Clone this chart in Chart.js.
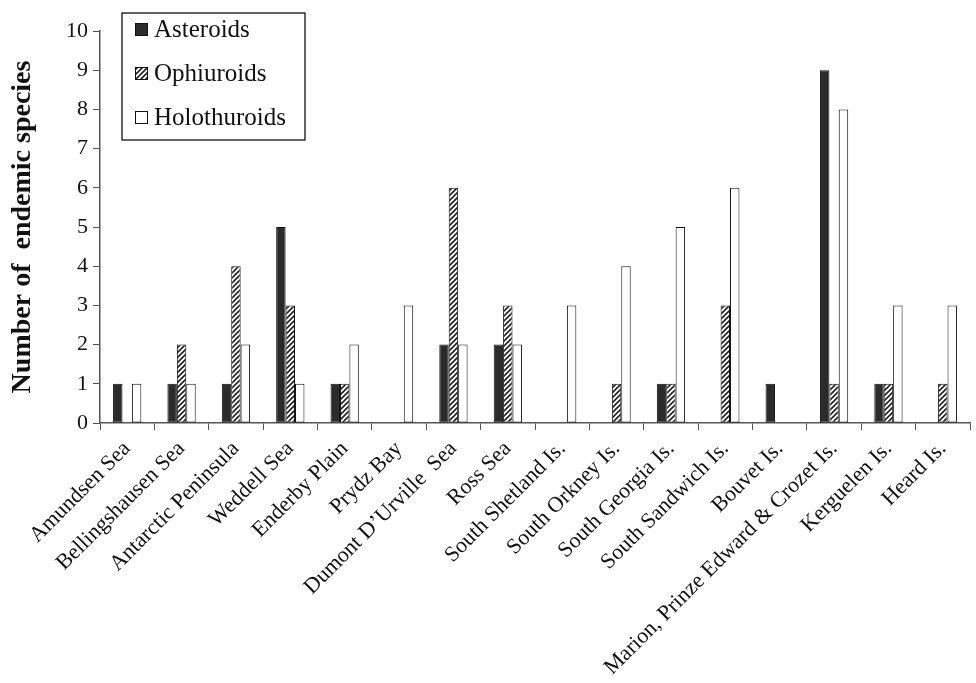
<!DOCTYPE html>
<html>
<head>
<meta charset="utf-8">
<script src="https://cdn.jsdelivr.net/npm/chart.js@4"></script>
<style>
  html, body { margin: 0; padding: 0; background: #fff; }
  #wrap { width: 976px; height: 683px; position: relative; }
</style>
</head>
<body>
<div id="wrap"><canvas id="chart"></canvas></div>
<script>
// Regions along the x axis
const regions = [
  'Amundsen Sea', 'Bellingshausen Sea', 'Antarctic Peninsula', 'Weddell Sea',
  'Enderby Plain', 'Prydz Bay', 'Dumont D\u2019Urville  Sea', 'Ross Sea',
  'South Shetland Is.', 'South Orkney Is.', 'South Georgia Is.', 'South Sandwich Is.',
  'Bouvet Is.', 'Marion, Prinze Edward & Crozet Is.', 'Kerguelen Is.', 'Heard Is.'
];

// endemic species counts per region
const asteroids    = [1, 1, 1, 5, 1, 0, 2, 2, 0, 0, 1, 0, 1, 9, 1, 0];
const ophiuroids   = [0, 2, 4, 3, 1, 0, 6, 3, 0, 1, 1, 3, 0, 1, 1, 1];
const holothuroids = [1, 1, 2, 1, 2, 3, 2, 2, 3, 4, 5, 6, 0, 8, 3, 3];

const yTicks = [0, 1, 2, 3, 4, 5, 6, 7, 8, 9, 10];

const serif = "'Liberation Serif', 'Times New Roman', serif";

// diagonal hatch for the ophiuroid bars
function hatch() {
  const c = document.createElement('canvas');
  c.width = 5; c.height = 5;
  const g = c.getContext('2d');
  g.fillStyle = '#fff';
  g.fillRect(0, 0, 5, 5);
  g.strokeStyle = '#222';
  g.lineWidth = 1.6;
  g.beginPath();
  g.moveTo(-1, 6); g.lineTo(6, -1);
  g.moveTo(-1, 1); g.lineTo(1, -1);
  g.moveTo(4, 6); g.lineTo(6, 4);
  g.stroke();
  return g.createPattern(c, 'repeat');
}

// legend drawn as a boxed panel inside the plot
const boxLegend = {
  id: 'boxLegend',
  afterDraw(chart) {
    const ctx = chart.ctx;
    const x0 = 122, y0 = 13, w = 183, h = 127;
    ctx.save();
    ctx.fillStyle = '#fff';
    ctx.fillRect(x0, y0, w, h);
    ctx.strokeStyle = '#111';
    ctx.lineWidth = 1.3;
    ctx.strokeRect(x0, y0, w, h);
    ctx.font = '25px ' + serif;
    ctx.textBaseline = 'middle';
    chart.data.datasets.forEach((ds, i) => {
      const cy = y0 + 16 + i * 44;
      ctx.fillStyle = ds.backgroundColor;
      ctx.fillRect(x0 + 13, cy - 6, 13, 13);
      ctx.strokeStyle = '#111';
      ctx.lineWidth = 1;
      ctx.strokeRect(x0 + 13.5, cy - 5.5, 12, 12);
      ctx.fillStyle = '#111';
      ctx.fillText(ds.label, x0 + 32, cy + 1);
    });
    ctx.restore();
  }
};

const barStyle = { borderColor: '#111', borderWidth: 1, borderSkipped: false,
                   categoryPercentage: 0.52, barPercentage: 1.0 };

new Chart(document.getElementById('chart'), {
  type: 'bar',
  data: {
    labels: regions,
    datasets: [
      Object.assign({ label: 'Asteroids', data: asteroids, backgroundColor: '#2b2b2b' }, barStyle),
      Object.assign({ label: 'Ophiuroids', data: ophiuroids, backgroundColor: hatch() }, barStyle),
      Object.assign({ label: 'Holothuroids', data: holothuroids, backgroundColor: '#ffffff' }, barStyle)
    ]
  },
  options: {
    responsive: true,
    maintainAspectRatio: false,
    animation: false,
    layout: { padding: { top: 31, right: 6, left: 4, bottom: 0 } },
    plugins: { legend: { display: false }, tooltip: { enabled: false } },
    scales: {
      x: {
        offset: true,
        grid: { offset: true, drawOnChartArea: false, tickLength: 7, color: '#555' },
        border: { color: '#555', width: 1.5 },
        ticks: {
          maxRotation: 45, minRotation: 45, autoSkip: false,
          color: '#111', font: { family: serif, size: 22 }, padding: 6
        },
        afterFit(scale) { scale.height = 260; }
      },
      y: {
        min: 0, max: 10,
        afterBuildTicks(scale) { scale.ticks = yTicks.map(v => ({ value: v })); },
        grid: { drawOnChartArea: false, tickLength: 7, color: '#555' },
        border: { color: '#555', width: 1.5 },
        ticks: { color: '#111', font: { family: serif, size: 22 }, padding: 5 },
        title: {
          display: true, text: 'Number of  endemic species',
          color: '#111', font: { family: serif, size: 28, weight: 'bold' }, padding: { top: 2, bottom: 8 }
        },
        afterFit(scale) { scale.width = 96; }
      }
    }
  },
  plugins: [boxLegend]
});
</script>
</body>
</html>
